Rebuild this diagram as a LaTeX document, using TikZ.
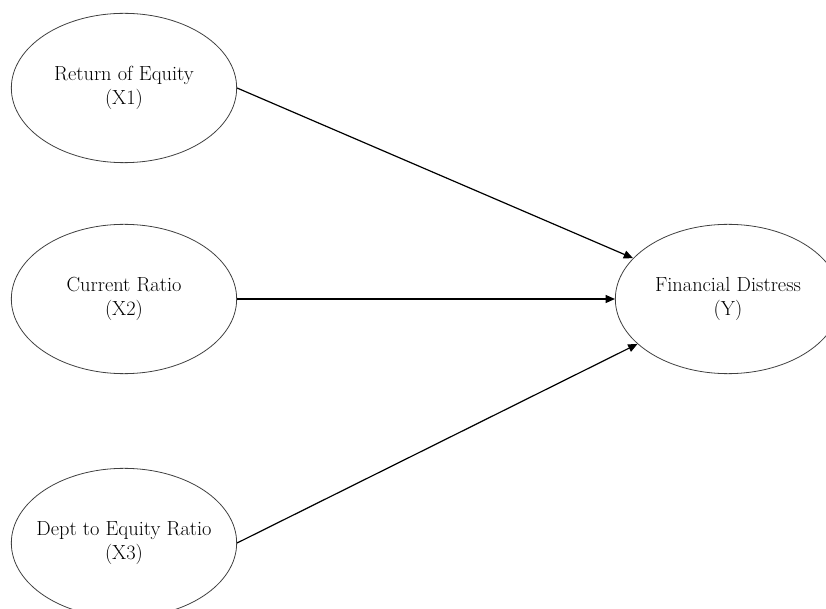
\documentclass[tikz,border=0pt]{standalone}
\usepackage{tikz}
\usetikzlibrary{shapes.geometric,arrows.meta}
\tikzset{
  var/.style={ellipse,draw=black!75,line width=0.6pt,minimum width=169pt,minimum height=112pt,inner sep=0pt},
  lbl/.style={align=center,font=\fontsize{15.3}{17.5}\selectfont},
  arr/.style={-{Triangle[length=7pt,width=6pt]},line width=0.9pt}
}

\begin{document}
\begin{tikzpicture}[x=0.75pt,y=-0.75pt]
      \useasboundingbox (0,0) rectangle (826,609);
      % independent variables
      \node[var] (x1) at (124,88)  {};
      \node[var] (x2) at (124,299) {};
      \node[var] (x3) at (124,543) {};
      \node[lbl] (x1t) at (x1) {Return of Equity\\(X1)};
      \node[lbl] (x2t) at (x2) {Current Ratio\\(X2)};
      \node[lbl] (x3t) at (x3) {Dept to Equity Ratio\\(X3)};
      % dependent variable
      \node[var] (y) at (728,299) {};
      \node[lbl] (yt) at (y) {Financial Distress\\(Y)};
      \draw[arr] (x1.east) -- (y);
      \draw[arr] (x2.east) -- (y);
      \draw[arr] (x3.east) -- (y);
     \end{tikzpicture}
\end{document}
